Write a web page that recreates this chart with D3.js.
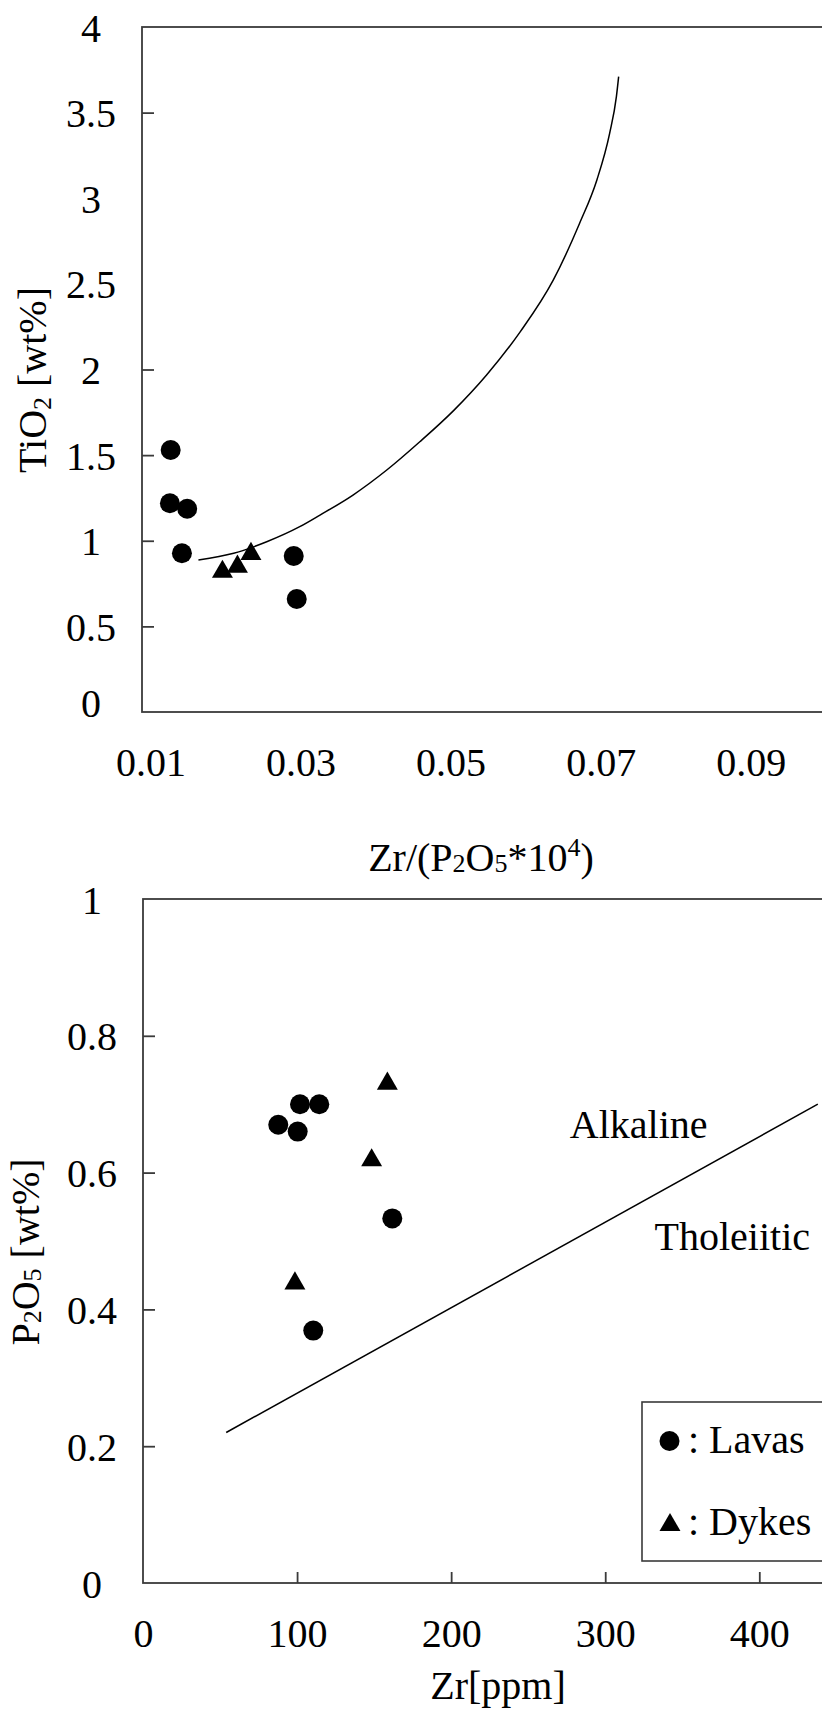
<!DOCTYPE html>
<html>
<head>
<meta charset="utf-8">
<script src="https://cdn.jsdelivr.net/npm/d3@7"></script>
<style>
  html, body { margin: 0; padding: 0; background: #fff; }
  svg { display: block; }
  text { font-family: "Liberation Serif", "Times New Roman", serif; fill: #000; }
</style>
</head>
<body>
<svg id="chart" width="822" height="1713"></svg>
<script>
// ---------- Top panel: TiO2 vs Zr/(P2O5*10^4) ----------
const topXTickLabels = [0.01, 0.03, 0.05, 0.07, 0.09];
const topYTickLabels = [0, 0.5, 1, 1.5, 2, 2.5, 3, 3.5, 4];
const topYTickMarks = [0.5, 1, 1.5, 2, 3.5];

const topLavasRatio = [0.0127, 0.0126, 0.0149, 0.0142, 0.0291, 0.0295];
const topLavasTiO2  = [1.530, 1.219, 1.187, 0.927, 0.911, 0.660];
const topDykesRatio = [0.0196, 0.0216, 0.0234];
const topDykesTiO2  = [0.819, 0.849, 0.923];

const topCurveRatio = [0.0164, 0.0211, 0.0255, 0.0299, 0.0326, 0.0370, 0.0415, 0.0459, 0.0504, 0.0548, 0.0593, 0.0637, 0.0672, 0.0695, 0.0712, 0.0721, 0.0724];
const topCurveTiO2  = [0.888, 0.927, 0.994, 1.082, 1.150, 1.267, 1.413, 1.578, 1.760, 1.968, 2.221, 2.523, 2.854, 3.107, 3.379, 3.593, 3.710];

// ---------- Bottom panel: P2O5 vs Zr ----------
const botXTickLabels = [0, 100, 200, 300, 400];
const botXTickMarks = [100, 200, 300, 400];
const botYTickLabels = [0, 0.2, 0.4, 0.6, 0.8, 1];
const botYTickMarks = [0.2, 0.4, 0.6, 0.8];

const botLavasZr = [87.8, 101.9, 114.4, 100.4, 161.8, 110.5];
const botLavasP  = [0.670, 0.700, 0.700, 0.660, 0.533, 0.369];
const botDykesZr = [158.6, 148.4, 98.6];
const botDykesP  = [0.730, 0.618, 0.438];

const divideZr = [54, 438];
const divideP  = [0.22, 0.70];

const fieldLabels = ["Alkaline", "Tholeiitic"];
const fieldZr = [277, 332];
const fieldP  = [0.651, 0.487];

const legendNames = [": Lavas", ": Dykes"];

// ---------- drawing ----------
const svg = d3.select("#chart");
svg.append("rect").attr("width", 822).attr("height", 1713).attr("fill", "#fff");

const FS = 40;
const frameColor = "#3a3a3a";

const xTop = d3.scaleLinear().domain([0.00888, 0.0995]).range([142, 822]);
const yTop = d3.scaleLinear().domain([0, 4]).range([712, 27]);
const xBot = d3.scaleLinear().domain([0, 440.7]).range([143, 822]);
const yBot = d3.scaleLinear().domain([0, 1]).range([1583, 899]);

const triangle = d3.symbol().type(d3.symbolTriangle).size(190);

function panel(x, y, opts) {
  const g = svg.append("g");
  g.append("rect")
    .attr("x", x.range()[0]).attr("y", y.range()[1])
    .attr("width", 700).attr("height", y.range()[0] - y.range()[1])
    .attr("fill", "none").attr("stroke", frameColor).attr("stroke-width", 1.8);

  const ya = g.append("g").attr("transform", `translate(${x.range()[0]},0)`)
    .call(d3.axisLeft(y).tickValues(opts.yLabels).tickSize(0).tickFormat(d => String(d)));
  ya.select(".domain").remove();
  ya.selectAll("text")
    .attr("x", -51).attr("dy", d => (opts.raiseZero && d === 0) ? "0.1em" : "0.35em")
    .attr("text-anchor", "middle")
    .style("font-family", '"Liberation Serif", serif').style("font-size", FS + "px").attr("fill", "#000");

  const yt = g.append("g").attr("transform", `translate(${x.range()[0]},0)`)
    .call(d3.axisRight(y).tickValues(opts.yMarks).tickSize(12).tickFormat(""));
  yt.select(".domain").remove();
  yt.selectAll("line").attr("stroke", frameColor).attr("stroke-width", 1.8);

  const xa = g.append("g").attr("transform", `translate(0,${y.range()[0]})`)
    .call(d3.axisBottom(x).tickValues(opts.xLabels).tickSize(0).tickFormat(d => String(d)));
  xa.select(".domain").remove();
  xa.selectAll("text")
    .attr("y", 64).attr("dy", 0)
    .attr("text-anchor", "middle")
    .style("font-family", '"Liberation Serif", serif').style("font-size", FS + "px").attr("fill", "#000");

  if (opts.xMarks) {
    const xt = g.append("g").attr("transform", `translate(0,${y.range()[0]})`)
      .call(d3.axisTop(x).tickValues(opts.xMarks).tickSize(11).tickFormat(""));
    xt.select(".domain").remove();
    xt.selectAll("line").attr("stroke", frameColor).attr("stroke-width", 1.8);
  }
  return g;
}

// ===== Top panel =====
const gTop = panel(xTop, yTop, {
  yLabels: topYTickLabels, yMarks: topYTickMarks, xLabels: topXTickLabels, raiseZero: true
});

const curveData = topCurveRatio.map((v, i) => [v, topCurveTiO2[i]]);
gTop.append("path")
  .attr("d", d3.line().x(d => xTop(d[0])).y(d => yTop(d[1])).curve(d3.curveMonotoneX)(curveData))
  .attr("fill", "none").attr("stroke", "#000").attr("stroke-width", 1.5);

gTop.selectAll("circle.lava").data(topLavasRatio.map((v, i) => [v, topLavasTiO2[i]]))
  .join("circle").attr("class", "lava")
  .attr("cx", d => xTop(d[0])).attr("cy", d => yTop(d[1])).attr("r", 10).attr("fill", "#000");

gTop.selectAll("path.dyke").data(topDykesRatio.map((v, i) => [v, topDykesTiO2[i]]))
  .join("path").attr("class", "dyke")
  .attr("d", triangle)
  .attr("transform", d => `translate(${xTop(d[0])},${yTop(d[1])})`).attr("fill", "#000");

const tyt = svg.append("text")
  .attr("transform", "translate(46,380) rotate(-90)")
  .attr("text-anchor", "middle").style("font-size", FS + "px");
tyt.append("tspan").text("TiO");
tyt.append("tspan").text("2").style("font-size", "26px").attr("dy", 5);
tyt.append("tspan").text(" [wt%]").attr("dy", -5);

const txt = svg.append("text")
  .attr("x", 481).attr("y", 871)
  .attr("text-anchor", "middle").style("font-size", FS + "px");
txt.append("tspan").text("Zr/(P");
txt.append("tspan").text("2").style("font-size", "26px").attr("dy", 1);
txt.append("tspan").text("O").attr("dy", -1);
txt.append("tspan").text("5").style("font-size", "26px").attr("dy", 1);
txt.append("tspan").text("*10").attr("dy", -1);
txt.append("tspan").text("4").style("font-size", "26px").attr("dy", -15);
txt.append("tspan").text(")").attr("dy", 15);

// ===== Bottom panel =====
const gBot = panel(xBot, yBot, {
  yLabels: botYTickLabels, yMarks: botYTickMarks, xLabels: botXTickLabels, xMarks: botXTickMarks
});

gBot.append("path")
  .attr("d", d3.line().x(d => xBot(d[0])).y(d => yBot(d[1]))(divideZr.map((v, i) => [v, divideP[i]])))
  .attr("fill", "none").attr("stroke", "#000").attr("stroke-width", 1.5);

gBot.selectAll("circle.lava").data(botLavasZr.map((v, i) => [v, botLavasP[i]]))
  .join("circle").attr("class", "lava")
  .attr("cx", d => xBot(d[0])).attr("cy", d => yBot(d[1])).attr("r", 10).attr("fill", "#000");

gBot.selectAll("path.dyke").data(botDykesZr.map((v, i) => [v, botDykesP[i]]))
  .join("path").attr("class", "dyke")
  .attr("d", triangle)
  .attr("transform", d => `translate(${xBot(d[0])},${yBot(d[1])})`).attr("fill", "#000");

gBot.selectAll("text.field").data(fieldLabels)
  .join("text").attr("class", "field")
  .attr("x", (d, i) => xBot(fieldZr[i])).attr("y", (d, i) => yBot(fieldP[i]))
  .style("font-size", FS + "px").text(d => d);

const lg = svg.append("g");
lg.append("rect").attr("x", 642).attr("y", 1402).attr("width", 220).attr("height", 159)
  .attr("fill", "#fff").attr("stroke", frameColor).attr("stroke-width", 1.6);
lg.append("circle").attr("cx", 669.5).attr("cy", 1441).attr("r", 10).attr("fill", "#000");
lg.append("path").attr("d", triangle).attr("transform", "translate(670,1525)").attr("fill", "#000");
lg.selectAll("text.leg").data(legendNames).join("text").attr("class", "leg")
  .attr("x", 688).attr("y", (d, i) => i === 0 ? 1453 : 1535)
  .style("font-size", FS + "px").text(d => d);

const byt = svg.append("text")
  .attr("transform", "translate(39,1252) rotate(-90)")
  .attr("text-anchor", "middle").style("font-size", FS + "px");
byt.append("tspan").text("P");
byt.append("tspan").text("2").style("font-size", "26px").attr("dy", 2);
byt.append("tspan").text("O").attr("dy", -2);
byt.append("tspan").text("5").style("font-size", "26px").attr("dy", 2);
byt.append("tspan").text(" [wt%]").attr("dy", -2);

svg.append("text").attr("x", 498).attr("y", 1699)
  .attr("text-anchor", "middle").style("font-size", FS + "px").text("Zr[ppm]");
</script>
</body>
</html>
